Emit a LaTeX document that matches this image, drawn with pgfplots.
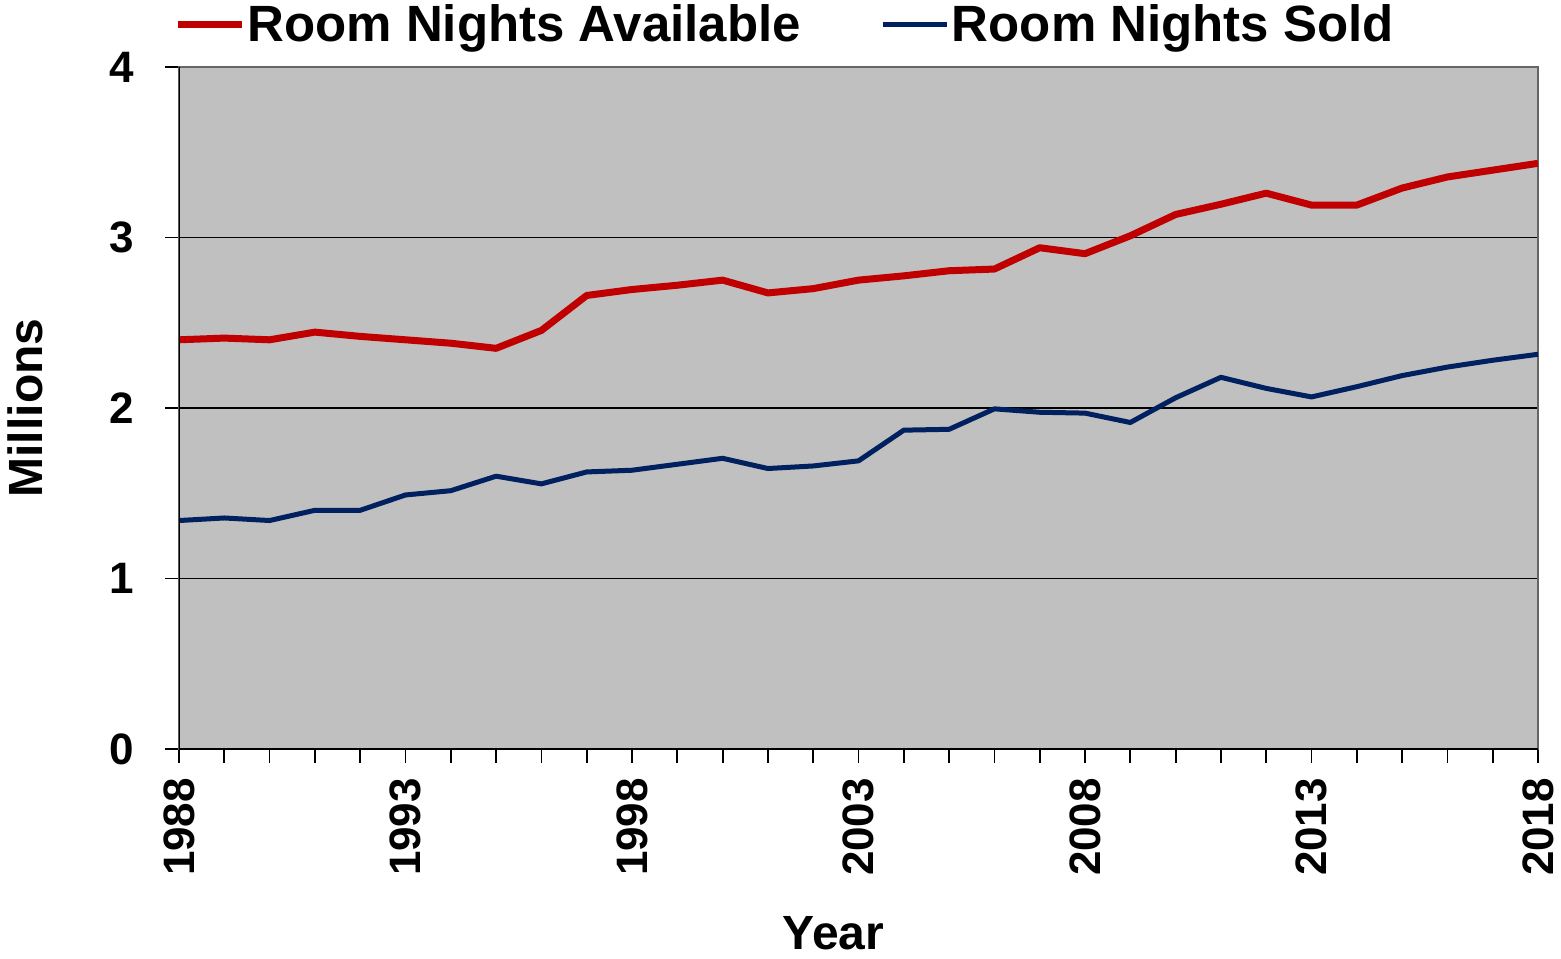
\documentclass[border=0pt]{standalone}
\usepackage{pgfplots}
\pgfplotsset{compat=1.18}
\usepackage{fontspec}
\setmainfont{Liberation Sans}
\definecolor{redline}{HTML}{C00000}
\definecolor{blueline}{HTML}{002060}
\definecolor{plotbg}{HTML}{C0C0C0}
\begin{document}
\begin{tikzpicture}
\begin{axis}[
  name=ax,
  scale only axis, width=679.5pt, height=341pt,
  xmin=1988, xmax=2018, ymin=0, ymax=4,
  xtick={1988,1993,1998,2003,2008,2013,2018},
  xticklabels={1988,1993,1998,2003,2008,2013,2018},
  minor x tick num=4,
  ytick={0,1,2,3,4},
  yticklabels={0,1,2,3,4},
  tick align=outside,
  xtick pos=bottom, ytick pos=left,
  major tick length=7pt, minor tick length=7pt,
  tick style={black, line width=0.9pt},
  ymajorgrids, grid style={black, line width=0.7pt},
  axis line style={draw=gray!80!black, line width=1pt},
  axis background/.style={fill=plotbg},
  ticklabel style={font=\fontsize{22}{26}\selectfont\bfseries},
  xticklabel style={rotate=90, anchor=east, xshift=-4pt},
  yticklabel style={anchor=east, xshift=-12pt},
  xlabel={Year}, ylabel={Millions},
  label style={font=\fontsize{24}{28}\selectfont\bfseries},
  xlabel style={at={(axis description cs:0.4816,-0.27)}, anchor=center},
  ylabel style={at={(axis description cs:-0.1133,0.5)}, anchor=center},
  legend columns=2,
  legend image code/.code={\draw[#1] (0pt,0pt) -- (32pt,0pt);},
  legend style={at={(axis description cs:0,1)}, anchor=west, yshift=21pt, xshift=-2.5pt,
    draw=none, fill=none, inner sep=0pt,
    font=\fontsize{25.5}{30}\selectfont\bfseries,
    nodes={inner sep=1pt},
    /tikz/every even column/.append style={column sep=39pt}},
  legend cell align=left,
]
\addplot[redline, line width=3.5pt, line join=round] coordinates {
(1988,2.40) (1989,2.41) (1990,2.40) (1991,2.445) (1992,2.42) (1993,2.40)
(1994,2.38) (1995,2.35) (1996,2.455) (1997,2.66) (1998,2.695) (1999,2.72)
(2000,2.75) (2001,2.675) (2002,2.70) (2003,2.75) (2004,2.775) (2005,2.805)
(2006,2.815) (2007,2.94) (2008,2.905) (2009,3.01) (2010,3.135) (2011,3.195)
(2012,3.26) (2013,3.19) (2014,3.19) (2015,3.29) (2016,3.355) (2017,3.395)
(2018,3.435)};
\addlegendentry{Room Nights Available}
\addplot[blueline, line width=2.5pt, line join=round] coordinates {
(1988,1.34) (1989,1.355) (1990,1.34) (1991,1.40) (1992,1.40) (1993,1.49)
(1994,1.515) (1995,1.60) (1996,1.555) (1997,1.625) (1998,1.635) (1999,1.67)
(2000,1.705) (2001,1.645) (2002,1.66) (2003,1.69) (2004,1.87) (2005,1.875)
(2006,1.995) (2007,1.975) (2008,1.97) (2009,1.915) (2010,2.06) (2011,2.18)
(2012,2.115) (2013,2.065) (2014,2.125) (2015,2.19) (2016,2.24) (2017,2.28)
(2018,2.315)};
\addlegendentry{Room Nights Sold}
\draw[black, line width=1pt] (rel axis cs:0,1) -- (rel axis cs:0,0) -- (rel axis cs:1,0);
\end{axis}
\pgfresetboundingbox
\path[use as bounding box] ([xshift=-89.5pt,yshift=-104.5pt]ax.south west) rectangle ([xshift=11.5pt,yshift=33.5pt]ax.north east);
\end{tikzpicture}
\end{document}
